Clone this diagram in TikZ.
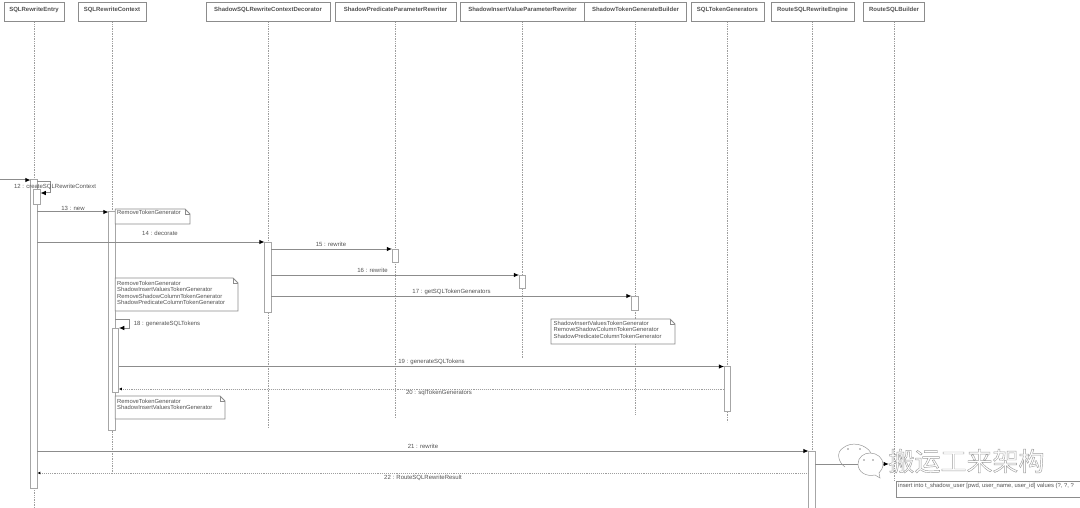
\documentclass[tikz,border=0pt]{standalone}
\usepackage{fontspec}
\setmainfont{Liberation Sans}
\newfontfamily\cjkfont{Noto Sans CJK SC}
\usetikzlibrary{arrows.meta}
\definecolor{linegray}{gray}{0.55}
\definecolor{bargray}{gray}{0.65}
\definecolor{dotgray}{gray}{0.62}
\definecolor{textgray}{gray}{0.32}
\tikzset{
  classbox/.style={draw=linegray,line width=1pt,fill=white,minimum height=19pt,
    inner sep=0pt,text=textgray,font=\fontsize{6}{7}\selectfont\bfseries,text depth=5.5pt},
  lifeline/.style={dotgray,densely dotted,line width=0.7pt},
  actbar/.style={draw=bargray,line width=1pt,fill=white,minimum width=6.5pt,inner sep=0pt,outer sep=0pt},
  msg/.style={linegray,line width=1pt,-{Latex[black,length=5.5pt,width=4.5pt]}},
  reply/.style={dotgray,densely dotted,line width=0.9pt,-{Latex[black,open,length=3pt,width=3pt]}},
  msglabel/.style={text=textgray,inner sep=0pt,font=\fontsize{6}{7}\selectfont},
  notelabel/.style={text=textgray,inner sep=0pt,anchor=north west,align=left,font=\fontsize{5.85}{6.4}\selectfont},
  notebox/.style={draw=linegray,line width=0.8pt}
}
\begin{document}
\begin{tikzpicture}[x=1pt,y=-1pt]
\useasboundingbox (0,0) rectangle (1080,508);
% class boxes along the top
\node[classbox,minimum width=60pt] (entry) at (34,12.5) {SQLRewriteEntry};
\node[classbox,minimum width=68pt] (context) at (112,12.5) {SQLRewriteContext};
\node[classbox,minimum width=124pt] (decorator) at (268,12.5) {ShadowSQLRewriteContextDecorator};
\node[classbox,minimum width=121pt] (predicate) at (395.5,12.5) {ShadowPredicateParameterRewriter};
\node[classbox,minimum width=124pt] (insert) at (522.5,12.5) {ShadowInsertValueParameterRewriter};
\node[classbox,minimum width=102pt] (builder) at (635.5,12.5) {ShadowTokenGenerateBuilder};
\node[classbox,minimum width=73pt] (generators) at (727.5,12.5) {SQLTokenGenerators};
\node[classbox,minimum width=83pt] (engine) at (812.5,12.5) {RouteSQLRewriteEngine};
\node[classbox,minimum width=61pt] (route) at (894,12.5) {RouteSQLBuilder};
% lifelines
\draw[lifeline] (entry.south) -- (entry.south |- 0,508);
\draw[lifeline] (context.south) -- (context.south |- 0,473);
\draw[lifeline] (decorator.south) -- (decorator.south |- 0,428);
\draw[lifeline] (predicate.south) -- (predicate.south |- 0,417);
\draw[lifeline] (insert.south) -- (insert.south |- 0,359);
\draw[lifeline] (builder.south) -- (builder.south |- 0,414);
\draw[lifeline] (generators.south) -- (generators.south |- 0,422);
\draw[lifeline] (engine.south) -- (engine.south |- 0,508);
\draw[lifeline] (route.south) -- (route.south |- 0,481);
% activation bars
\node[actbar,minimum height=308pt] (entrybar) at (34,334) {};
\node[actbar,minimum height=15pt] (createbar) at (37,197.5) {};
\node[actbar,minimum height=218pt] (contextbar) at (112,321) {};
\node[actbar,minimum height=64pt] (tokensbar) at (115.5,360) {};
\node[actbar,minimum height=70pt] (decoratorbar) at (268,277) {};
\node[actbar,minimum height=13pt] (predicatebar) at (395.5,255.5) {};
\node[actbar,minimum height=13pt] (insertbar) at (522.5,281.5) {};
\node[actbar,minimum height=14pt] (builderbar) at (635,303) {};
\node[actbar,minimum height=45pt] (generatorsbar) at (727.5,389) {};
\node[actbar,minimum height=58pt] (enginebar) at (812,480) {};
% notes
\draw[notebox,fill=white] (115.2,209) -- (185,209) -- (190,214) -- (190,224) -- (115.2,224) -- cycle;
\draw[notebox] (185,209) -- (185,214) -- (190,214);
\draw[notebox,fill=white] (115.2,278) -- (233,278) -- (238,283) -- (238,311) -- (115.2,311) -- cycle;
\draw[notebox] (233,278) -- (233,283) -- (238,283);
\draw[notebox,fill=white] (115.2,396) -- (220,396) -- (225,401) -- (225,419) -- (115.2,419) -- cycle;
\draw[notebox] (220,396) -- (220,401) -- (225,401);
\draw[notebox,fill=white] (551,319) -- (670,319) -- (675,324) -- (675,344) -- (551,344) -- cycle;
\draw[notebox] (670,319) -- (670,324) -- (675,324);
\node[notelabel] (note1) at (117,210.5) {RemoveTokenGenerator};
\node[notelabel] (note2) at (117,281) {RemoveTokenGenerator\\ShadowInsertValuesTokenGenerator\\RemoveShadowColumnTokenGenerator\\ShadowPredicateColumnTokenGenerator};
\node[notelabel] (note3) at (117,398.7) {RemoveTokenGenerator\\ShadowInsertValuesTokenGenerator};
\node[notelabel] (note4) at (553.5,321) {ShadowInsertValuesTokenGenerator\\RemoveShadowColumnTokenGenerator\\ShadowPredicateColumnTokenGenerator};
% messages
\coordinate (caller) at (0,180);
\draw[msg] (caller) -- (entrybar.north west);
\draw[msg] (entrybar.east |- 0,182) -- (50,182) -- (50,193) -- (createbar.east |- 0,193);
\draw[msg] (entrybar.east |- 0,212) -- (contextbar.west |- 0,212);
\draw[msg] (entrybar.east |- 0,242) -- (decoratorbar.north west);
\draw[msg] (decoratorbar.east |- 0,249) -- (predicatebar.north west);
\draw[msg] (decoratorbar.east |- 0,275) -- (insertbar.north west);
\draw[msg] (decoratorbar.east |- 0,296) -- (builderbar.north west);
\draw[msg] (contextbar.east |- 0,319) -- (129,319) -- (129,328) -- (tokensbar.north east);
\draw[msg] (tokensbar.east |- generatorsbar.north) -- (generatorsbar.north west);
\draw[reply] (generatorsbar.west |- 0,389) -- (tokensbar.east |- 0,389);
\draw[msg] (entrybar.east |- 0,451) -- (enginebar.north west);
\draw[reply] (enginebar.west |- 0,473) -- (entrybar.east |- 0,473);
\coordinate (sqlend) at (889,464);
\draw[msg] (enginebar.east |- sqlend) -- (sqlend);
% message labels
\node[msglabel] (msg12) at (55,187) {12 : createSQLRewriteContext};
\node[msglabel] (msg13) at (73,208) {13 : new};
\node[msglabel] (msg14) at (160,233.5) {14 : decorate};
\node[msglabel] (msg15) at (331,244) {15 : rewrite};
\node[msglabel] (msg16) at (372.5,270) {16 : rewrite};
\node[msglabel] (msg17) at (451.5,292) {17 : getSQLTokenGenerators};
\node[msglabel] (msg18) at (167,323.5) {18 : generateSQLTokens};
\node[msglabel] (msg19) at (431.5,362) {19 : generateSQLTokens};
\node[msglabel] (msg20) at (439,393) {20 : sqlTokenGenerators};
\node[msglabel] (msg21) at (423,446) {21 : rewrite};
\node[msglabel] (msg22) at (423,477.5) {22 : RouteSQLRewriteResult};
% sql note, runs off the page
\draw[notebox,fill=white] (1080,481) -- (896,481) -- (896,497) -- (1080,497);
\node[notelabel,anchor=west] (sqlnote) at (898,486) {insert into t\_shadow\_user [pwd, user\_name, user\_id] values (?, ?, ?};
% watermark
\draw[black!40,line width=0.5pt] (845,467) .. controls (838,462) and (836,452) .. (843,448) .. controls (851,441) and (866,444) .. (871,453);
\draw[black!40,line width=0.5pt,fill=white] (858,464) .. controls (858,457) and (864,453) .. (870,453) .. controls (877,453) and (883,458) .. (883,464) .. controls (883,468) and (881,471) .. (879,473) -- (880,478) -- (875,475) .. controls (866,477) and (858,472) .. (858,464) -- cycle;
\fill[black!45] (848,449) circle [radius=0.9];
\fill[black!45] (860,449) circle [radius=0.9];
\fill[black!45] (864,460) circle [radius=0.8];
\fill[black!45] (873,460) circle [radius=0.8];
\node[inner sep=0pt,text=black!38,font=\cjkfont\fontsize{26}{26}\selectfont] (mark) at (966.5,461) {\special{pdf:code 1 Tr 0.45 w}搬运工来架构\special{pdf:code 0 Tr}};
\end{tikzpicture}
\end{document}
